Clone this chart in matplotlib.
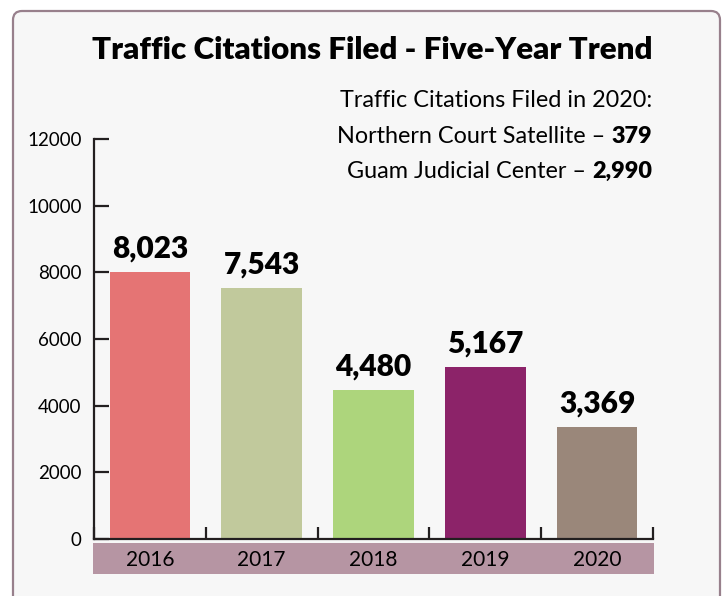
import matplotlib.pyplot as plt
import matplotlib.patches as mpatches
from matplotlib.transforms import IdentityTransform, blended_transform_factory

# data
years = ['2016', '2017', '2018', '2019', '2020']
citations = [8023, 7543, 4480, 5167, 3369]
bar_colors = ['#e57474', '#c1c99c', '#add57c', '#8c2369', '#9a877a']
yticks = [0, 2000, 4000, 6000, 8000, 10000, 12000]
title = 'Traffic Citations Filed - Five-Year Trend'
note_head = 'Traffic Citations Filed in 2020:'
note_rows = [('Northern Court Satellite \u2013 ', '379'),
             ('Guam Judicial Center \u2013 ', '2,990')]

plt.rcParams['font.family'] = ['Lato', 'DejaVu Sans']
ink = '#231f20'

W, H = 722, 596
fig = plt.figure(figsize=(W / 100, H / 100), dpi=100)
fig.set_facecolor('white')

# rounded panel behind everything (pixel coords, origin bottom-left)
panel = mpatches.FancyBboxPatch((13, -20), 707, 596 - 11 + 20,
                                boxstyle='round,pad=0,rounding_size=9',
                                transform=IdentityTransform(), zorder=-5,
                                facecolor='#f7f7f7', edgecolor='#98808c', linewidth=1.6)
fig.add_artist(panel)

ax = fig.add_axes([94 / W, 1 - 539 / H, 559 / W, 400 / H])
ax.patch.set_visible(False)

x = list(range(len(years)))
ax.bar(x, citations, width=0.72, color=bar_colors, zorder=2)
ax.set_xlim(-0.5, len(years) - 0.5)
ax.set_ylim(0, 12000)

for s in ['top', 'right']:
    ax.spines[s].set_visible(False)
for s in ['left', 'bottom']:
    ax.spines[s].set_color(ink)
    ax.spines[s].set_linewidth(1.6)

ax.set_yticks(yticks)
ax.set_yticklabels([str(v) for v in yticks])
ax.tick_params(axis='y', direction='in', length=11, width=1.6, color=ink, pad=9,
               labelsize=13.5, labelcolor='black')
ax.set_xticks([i - 0.5 for i in range(len(years) + 1)])
ax.set_xticklabels([])
ax.tick_params(axis='x', direction='in', length=8.5, width=1.6, color=ink)

# year band under the axis
bt = blended_transform_factory(ax.transData, ax.transAxes)
band = mpatches.Rectangle((-0.51, -0.0875), len(years) + 0.02, 0.0775, transform=bt,
                          facecolor='#b695a3', edgecolor='none', clip_on=False)
ax.add_patch(band)
for i, yr in enumerate(years):
    ax.text(i, -0.052, yr, transform=bt, ha='center', va='center', fontsize=15)

for i, v in enumerate(citations):
    ax.annotate(f'{v:,}', (i, v), xytext=(0, 10), textcoords='offset points',
                ha='center', va='baseline', fontsize=21.5, fontweight='heavy')

# title and note, right aligned to x=652px
rx = 652 / W
fig.text(rx, 1 - 59 / H, title, ha='right', va='baseline', fontsize=22.6, fontweight='heavy')
fig.text(rx, 1 - 107 / H, note_head, ha='right', va='baseline', fontsize=16.8)

r = fig.canvas.get_renderer()
for row, (txt, num) in enumerate(note_rows):
    yb = 1 - (143 + 35 * row) / H
    t = fig.text(rx, yb, num, ha='right', va='baseline', fontsize=16.8, fontweight='heavy')
    w = t.get_window_extent(r).width
    fig.text(rx - w / W, yb, txt, ha='right', va='baseline', fontsize=16.8)

fig.savefig('out.png', dpi=100)
